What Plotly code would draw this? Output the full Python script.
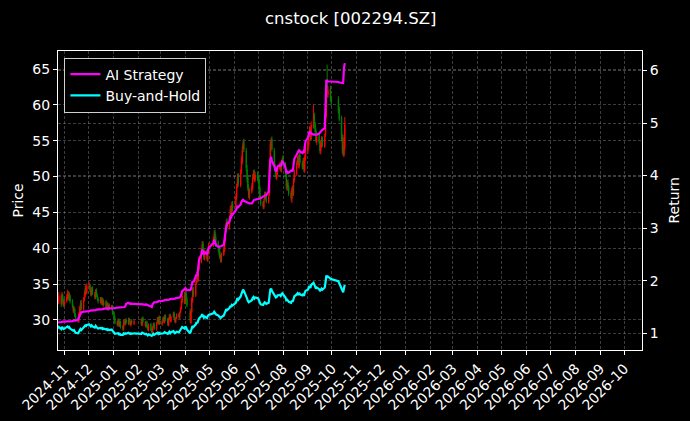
import pandas as pd
import plotly.graph_objects as go

# ---- trading calendar (SZSE, 2024-10-24 .. 2025-10-17) ----
holidays = ["2025-01-01", "2025-01-28", "2025-01-29", "2025-01-30", "2025-01-31",
            "2025-02-03", "2025-02-04", "2025-04-04", "2025-05-01", "2025-05-02",
            "2025-05-05", "2025-06-02", "2025-10-01", "2025-10-02", "2025-10-03",
            "2025-10-06", "2025-10-07", "2025-10-08"]
days = pd.bdate_range("2024-10-24", "2025-10-17")
dates = [d for d in days if d.strftime("%Y-%m-%d") not in holidays]

open_ = [
    32.9, 32.5, 33.3, 32.3, 33.4, 32.7,
    32.2, 32.6, 33.1, 33.7, 33.1, 33.4, 32.7, 31.9, 31.2, 31.5, 30.7, 30.1, 29.8, 30.9, 31.4, 32.4, 31.5, 32.9, 33.5, 34.5, 33.8,
    34.6, 34.8, 34.1, 33.5, 34.4, 33.7, 33.1, 34.1, 33.4, 33.0, 32.5, 33.0, 32.3, 32.9, 32.1, 32.6, 31.7, 32.3, 31.5, 32.1, 31.6, 31.9,
    31.0, 30.2, 29.7, 29.3, 30.0, 29.2, 29.7, 29.1, 28.7, 29.8, 29.4, 30.0, 29.5, 30.1, 29.6, 29.3, 29.9, 29.5,
    29.9, 29.3, 30.3, 29.7, 29.1, 29.7, 29.1, 28.6, 29.4, 28.7, 28.2, 29.0, 29.5, 28.7, 29.6, 30.2, 29.5, 30.4,
    29.4, 29.8, 30.3, 29.7, 30.6, 30.1, 29.3, 30.2, 30.7, 29.8, 30.5, 31.0, 30.2, 29.7, 30.3, 30.8, 30.3, 31.1, 31.6, 32.5, 33.5,
    32.4, 33.7, 32.9, 31.2, 29.6, 31.1, 32.6, 34.2, 33.4, 35.1, 36.4, 35.5, 37.1, 38.1, 39.4, 40.7, 39.5, 38.6, 39.6, 38.3, 39.5,
    40.5, 41.0, 42.2, 41.5, 40.8, 40.1, 39.5, 38.9, 38.3, 39.1, 39.7, 41.1, 42.5, 43.8, 42.9, 44.1, 45.6, 44.7, 46.2,
    45.8, 47.0, 48.8, 50.0, 48.8, 50.8, 52.0, 53.8, 54.9, 53.6, 51.0, 49.8, 48.5, 47.2, 47.9, 48.5, 50.0, 50.6, 49.5, 50.3,
    49.9, 49.6, 48.4, 47.1, 46.3, 45.7, 46.8, 47.6, 47.1, 46.4, 47.5, 51.6, 54.8, 55.2, 53.6, 51.4, 50.9, 49.8, 50.4, 51.1, 51.8, 50.8, 52.0,
    52.6, 51.7, 50.4, 48.5, 49.2, 48.5, 47.7, 46.9, 48.4, 47.6, 49.5, 50.4, 51.9, 52.6, 51.4, 53.0, 51.8, 51.3, 52.4, 50.8, 52.5,
    53.6, 54.4, 55.9, 56.7, 55.2, 57.0, 58.6, 57.2, 56.4, 54.8, 55.9, 54.9, 53.5, 54.4, 55.4, 54.2, 55.8, 58.6, 62.8, 61.4, 62.3, 61.0,
    60.8, 59.4, 58.2, 55.4, 53.8, 53.0, 54.0,
]
high = [
    33.4, 33.9, 33.6, 33.9, 33.7, 33.0,
    32.9, 33.6, 34.2, 34.0, 33.9, 33.6, 32.9, 32.1, 31.9, 31.7, 30.9, 30.4, 31.1, 31.9, 32.7, 32.8, 33.2, 34.0, 34.9, 34.8, 35.1,
    35.3, 35.0, 34.4, 34.6, 34.7, 33.9, 34.3, 34.4, 33.7, 33.2, 33.2, 33.2, 33.1, 33.1, 32.8, 32.8, 32.5, 32.5, 32.3, 32.3, 32.1, 32.1,
    31.2, 30.5, 29.9, 30.2, 30.2, 29.9, 29.9, 29.3, 30.0, 30.0, 30.2, 30.2, 30.3, 30.3, 29.8, 30.0, 30.1, 30.0,
    30.1, 30.4, 30.5, 29.9, 29.8, 29.9, 29.3, 29.5, 29.6, 28.9, 29.1, 29.6, 29.7, 29.7, 30.4, 30.4, 30.6, 30.6,
    29.9, 30.4, 30.5, 30.7, 30.8, 30.3, 30.3, 30.8, 30.9, 30.6, 31.1, 31.2, 30.4, 30.4, 30.9, 31.0, 31.2, 31.8, 32.9, 33.8, 33.9,
    34.3, 34.0, 33.2, 31.6, 31.3, 33.2, 34.5, 34.6, 35.4, 36.7, 36.8, 37.4, 38.8, 40.0, 41.0, 41.0, 39.9, 39.8, 39.9, 40.0, 40.8,
    41.6, 42.5, 42.6, 41.8, 41.1, 40.4, 39.8, 39.2, 39.4, 40.2, 41.6, 42.9, 44.0, 44.2, 44.6, 45.9, 46.0, 46.5, 46.6,
    47.6, 49.0, 50.4, 50.5, 51.0, 52.8, 54.2, 55.1, 55.3, 54.0, 51.6, 50.2, 48.9, 48.3, 49.1, 50.3, 50.9, 51.0, 50.7, 50.7,
    50.3, 49.9, 48.7, 47.4, 46.6, 46.9, 47.9, 47.9, 47.4, 47.5, 52.3, 55.0, 55.4, 55.6, 54.0, 51.8, 51.2, 50.6, 51.5, 52.0, 52.1, 52.3, 52.8,
    53.0, 52.0, 50.7, 49.5, 49.6, 48.8, 48.0, 48.6, 48.8, 49.8, 51.0, 52.2, 52.9, 53.0, 53.3, 53.4, 52.1, 52.6, 52.7, 53.0, 54.4,
    55.0, 56.2, 57.0, 56.9, 57.7, 60.0, 58.9, 57.6, 56.7, 56.0, 56.1, 55.0, 54.9, 55.6, 55.6, 56.0, 59.3, 63.4, 65.6, 62.6, 62.7, 61.3,
    61.2, 59.8, 58.5, 55.9, 54.3, 55.8, 58.3,
]
low = [
    32.2, 32.2, 31.8, 32.0, 32.5, 31.8,
    31.9, 32.4, 32.9, 32.7, 32.8, 32.3, 31.7, 31.0, 30.9, 30.4, 29.8, 29.6, 29.6, 30.6, 31.2, 31.3, 31.3, 32.6, 33.2, 33.5, 33.6,
    34.2, 33.9, 33.3, 33.3, 33.5, 32.9, 32.9, 33.2, 32.8, 32.3, 32.3, 32.1, 32.1, 31.9, 31.9, 31.5, 31.4, 31.3, 31.3, 31.4, 31.4, 30.7,
    29.9, 29.4, 29.1, 29.1, 29.1, 29.0, 28.8, 28.5, 28.5, 29.3, 29.2, 29.4, 29.3, 29.5, 29.2, 29.1, 29.4, 29.3,
    29.2, 29.1, 29.6, 29.0, 28.9, 28.8, 28.5, 28.4, 28.4, 28.1, 28.0, 28.8, 28.6, 28.5, 29.4, 29.4, 29.3, 29.3,
    29.2, 29.6, 29.6, 29.5, 29.8, 29.2, 29.1, 30.0, 29.7, 29.6, 30.3, 30.1, 29.6, 29.5, 30.1, 30.2, 30.1, 30.9, 31.4, 32.3, 32.2,
    32.2, 32.8, 31.8, 29.6, 29.4, 30.9, 32.4, 33.2, 33.2, 34.9, 35.3, 35.3, 36.9, 37.9, 39.1, 39.3, 38.4, 38.3, 38.2, 38.1, 39.2,
    40.2, 40.8, 41.0, 40.2, 39.7, 39.0, 38.5, 38.0, 38.0, 38.9, 39.5, 40.9, 42.2, 42.7, 42.6, 43.8, 44.4, 44.4, 45.2,
    45.5, 46.7, 48.4, 48.6, 48.5, 50.4, 51.7, 53.4, 53.4, 50.8, 49.2, 48.0, 47.0, 46.8, 47.6, 48.2, 49.6, 49.3, 49.2, 49.4,
    49.1, 48.0, 46.8, 45.9, 45.5, 45.4, 46.6, 46.8, 46.3, 46.2, 47.3, 51.3, 54.3, 53.5, 51.3, 50.4, 49.7, 49.5, 50.2, 50.9, 50.7, 50.6, 51.7,
    51.4, 49.9, 48.2, 48.0, 48.1, 47.3, 46.6, 46.3, 47.4, 47.3, 49.2, 50.1, 51.6, 51.2, 51.1, 51.7, 51.0, 51.0, 50.6, 50.5, 52.2,
    53.2, 54.1, 55.5, 55.0, 55.0, 56.7, 56.7, 55.9, 54.7, 54.4, 54.5, 53.2, 53.1, 54.0, 54.1, 54.0, 55.5, 58.2, 61.0, 61.0, 60.4, 59.8,
    58.8, 57.7, 54.9, 53.2, 52.8, 52.7, 53.7,
]
close = [
    32.6, 33.4, 32.2, 33.5, 32.8, 32.1,
    32.5, 33.2, 33.8, 33.0, 33.5, 32.6, 32.0, 31.3, 31.6, 30.6, 30.0, 29.9, 30.8, 31.5, 32.3, 31.6, 32.8, 33.6, 34.4, 33.9, 34.7,
    34.9, 34.2, 33.6, 34.3, 33.8, 33.2, 34.0, 33.5, 33.1, 32.6, 32.9, 32.4, 32.8, 32.2, 32.5, 31.8, 32.2, 31.6, 32.0, 31.7, 31.9, 31.0,
    30.1, 29.6, 29.4, 29.9, 29.3, 29.6, 29.0, 28.8, 29.7, 29.5, 29.9, 29.6, 30.0, 29.7, 29.4, 29.8, 29.6, 29.8,
    29.4, 30.2, 29.8, 29.2, 29.6, 29.0, 28.7, 29.3, 28.6, 28.3, 28.9, 29.4, 28.8, 29.5, 30.1, 29.6, 30.3, 29.5,
    29.7, 30.2, 29.8, 30.5, 30.0, 29.4, 30.1, 30.6, 29.9, 30.4, 30.9, 30.3, 29.8, 30.2, 30.7, 30.4, 31.0, 31.5, 32.6, 33.4, 32.5,
    33.6, 33.0, 32.0, 29.9, 31.0, 32.8, 34.0, 33.5, 35.0, 36.2, 35.6, 37.0, 38.2, 39.5, 40.5, 39.6, 38.8, 39.4, 38.5, 39.6, 40.3,
    41.2, 42.0, 41.4, 40.6, 40.0, 39.4, 38.8, 38.4, 39.0, 39.8, 41.2, 42.4, 43.6, 43.0, 44.2, 45.4, 44.8, 46.0, 45.6,
    47.2, 48.6, 49.8, 49.0, 50.6, 52.2, 53.6, 54.6, 53.8, 51.2, 49.6, 48.4, 47.4, 47.8, 48.6, 49.8, 50.4, 49.6, 50.2, 49.8,
    49.5, 48.2, 47.0, 46.2, 45.8, 46.6, 47.5, 47.0, 46.5, 47.2, 51.8, 54.6, 55.0, 53.8, 51.6, 50.8, 50.0, 50.3, 51.2, 51.6, 51.0, 51.9, 52.4,
    51.8, 50.2, 48.6, 49.0, 48.4, 47.6, 47.0, 48.2, 47.8, 49.4, 50.6, 51.8, 52.4, 51.6, 52.8, 52.0, 51.4, 52.2, 51.0, 52.6, 53.8,
    54.6, 55.8, 56.5, 55.4, 57.2, 58.4, 57.0, 56.2, 55.0, 55.6, 54.8, 53.6, 54.5, 55.2, 54.4, 55.6, 58.8, 62.5, 61.6, 62.0, 60.8, 60.4,
    59.2, 58.0, 55.2, 53.6, 53.0, 55.4, 57.2,
]
ai_strategy = [
    1.20, 1.21, 1.21, 1.22, 1.22, 1.22,
    1.22, 1.22, 1.23, 1.23, 1.23, 1.23, 1.23, 1.24, 1.25, 1.24, 1.24, 1.26, 1.30, 1.33, 1.38, 1.40, 1.41, 1.41, 1.42, 1.42, 1.42,
    1.42, 1.43, 1.43, 1.43, 1.44, 1.44, 1.44, 1.45, 1.45, 1.45, 1.46, 1.46, 1.46, 1.46, 1.47, 1.47, 1.47, 1.47, 1.48, 1.48, 1.48, 1.48,
    1.48, 1.48, 1.49, 1.49, 1.49, 1.49, 1.49, 1.50, 1.50, 1.50, 1.51, 1.56, 1.58, 1.57, 1.56, 1.57, 1.56, 1.56,
    1.55, 1.56, 1.55, 1.54, 1.55, 1.54, 1.53, 1.53, 1.51, 1.50, 1.55, 1.58, 1.59, 1.59, 1.60, 1.60, 1.61, 1.61,
    1.61, 1.62, 1.62, 1.63, 1.63, 1.63, 1.64, 1.64, 1.65, 1.65, 1.65, 1.66, 1.66, 1.67, 1.67, 1.68, 1.68, 1.70, 1.74, 1.80, 1.84,
    1.86, 1.84, 1.82, 1.82, 1.84, 1.92, 1.99, 1.97, 2.06, 2.12, 2.09, 2.30, 2.40, 2.50, 2.59, 2.54, 2.50, 2.55, 2.50, 2.57, 2.62,
    2.72, 2.78, 2.74, 2.68, 2.65, 2.64, 2.65, 2.66, 2.66, 2.68, 2.82, 2.90, 3.03, 3.08, 3.12, 3.22, 3.18, 3.28, 3.26,
    3.34, 3.38, 3.41, 3.40, 3.45, 3.50, 3.54, 3.55, 3.52, 3.50, 3.49, 3.48, 3.48, 3.47, 3.47, 3.50, 3.53, 3.54, 3.54, 3.55,
    3.55, 3.56, 3.57, 3.57, 3.60, 3.61, 3.62, 3.62, 3.63, 3.70, 4.05, 4.30, 4.36, 4.28, 4.18, 4.12, 4.08, 4.10, 4.17, 4.20, 4.18, 4.22, 4.27,
    4.26, 4.15, 4.05, 4.07, 4.05, 4.06, 4.08, 4.10, 4.08, 4.20, 4.32, 4.40, 4.44, 4.47, 4.49, 4.46, 4.43, 4.45, 4.43, 4.55, 4.65,
    4.72, 4.80, 4.84, 4.82, 4.80, 4.78, 4.78, 4.77, 4.77, 4.78, 4.80, 4.82, 4.85, 4.87, 4.87, 4.90, 5.40, 5.82, 5.80, 5.79, 5.79, 5.79,
    5.78, 5.77, 5.76, 5.76, 5.76, 6.05, 6.14,
]
buy_and_hold = [
    1.09, 1.12, 1.08, 1.12, 1.10, 1.08,
    1.09, 1.11, 1.13, 1.11, 1.12, 1.09, 1.07, 1.05, 1.06, 1.03, 1.01, 1.00, 1.03, 1.06, 1.08, 1.06, 1.10, 1.13, 1.15, 1.14, 1.16,
    1.17, 1.15, 1.13, 1.15, 1.13, 1.11, 1.14, 1.12, 1.11, 1.09, 1.10, 1.09, 1.10, 1.08, 1.09, 1.07, 1.08, 1.06, 1.07, 1.06, 1.07, 1.04,
    1.01, 0.99, 0.99, 1.00, 0.98, 0.99, 0.97, 0.97, 1.00, 0.99, 1.00, 0.99, 1.01, 1.00, 0.99, 1.00, 0.99, 1.00,
    0.99, 1.01, 1.00, 0.98, 0.99, 0.97, 0.96, 0.98, 0.96, 0.95, 0.97, 0.99, 0.97, 0.99, 1.01, 0.99, 1.02, 0.99,
    1.00, 1.01, 1.00, 1.02, 1.01, 0.99, 1.01, 1.03, 1.00, 1.02, 1.04, 1.02, 1.00, 1.01, 1.03, 1.02, 1.04, 1.06, 1.09, 1.12, 1.09,
    1.13, 1.11, 1.07, 1.00, 1.04, 1.10, 1.14, 1.12, 1.17, 1.21, 1.19, 1.24, 1.28, 1.33, 1.36, 1.33, 1.30, 1.32, 1.29, 1.33, 1.35,
    1.38, 1.41, 1.39, 1.36, 1.34, 1.32, 1.30, 1.29, 1.31, 1.34, 1.38, 1.42, 1.46, 1.44, 1.48, 1.52, 1.50, 1.54, 1.53,
    1.58, 1.63, 1.67, 1.64, 1.70, 1.75, 1.80, 1.83, 1.81, 1.72, 1.66, 1.62, 1.59, 1.60, 1.63, 1.67, 1.69, 1.66, 1.68, 1.67,
    1.66, 1.62, 1.58, 1.55, 1.54, 1.56, 1.59, 1.58, 1.56, 1.58, 1.74, 1.83, 1.85, 1.81, 1.73, 1.70, 1.68, 1.69, 1.72, 1.73, 1.71, 1.74, 1.76,
    1.74, 1.68, 1.63, 1.64, 1.62, 1.60, 1.58, 1.62, 1.60, 1.66, 1.70, 1.74, 1.76, 1.73, 1.77, 1.74, 1.72, 1.75, 1.71, 1.77, 1.81,
    1.83, 1.87, 1.90, 1.86, 1.92, 1.96, 1.91, 1.89, 1.85, 1.87, 1.84, 1.80, 1.83, 1.85, 1.83, 1.87, 1.97, 2.10, 2.07, 2.08, 2.04, 2.03,
    1.99, 1.95, 1.85, 1.80, 1.78, 1.86, 1.92,
]

x_range = ["2024-10-24", "2026-10-23"]
price_range = [25.81, 67.51]
return_range = [0.682, 6.37]

n = len(dates)
assert all(len(a) == n for a in (open_, high, low, close, ai_strategy, buy_and_hold)), n

FONT = "DejaVu Sans"
GRID = "rgba(200,200,200,0.30)"

fig = go.Figure()
fig.add_trace(go.Candlestick(
    x=dates, open=open_, high=high, low=low, close=close,
    increasing=dict(line=dict(color="#ff0000", width=1), fillcolor="#ff0000"),
    decreasing=dict(line=dict(color="#008000", width=1), fillcolor="#008000"),
    whiskerwidth=0, showlegend=False, name="Price", yaxis="y",
))
fig.add_trace(go.Scatter(
    x=dates, y=ai_strategy, mode="lines", name="AI Strategy",
    line=dict(color="#ff00ff", width=2.2), yaxis="y2",
))
fig.add_trace(go.Scatter(
    x=dates, y=buy_and_hold, mode="lines", name="Buy-and-Hold",
    line=dict(color="#00ffff", width=2.2), yaxis="y2",
))

axis_common = dict(
    showline=True, linecolor="white", linewidth=1,
    ticks="outside", ticklen=4, tickcolor="white", tickwidth=1,
    showgrid=True, gridcolor=GRID, gridwidth=0.5, griddash="3px,2px",
    zeroline=False, automargin=False,
    tickfont=dict(family=FONT, size=14, color="white"),
)

fig.update_layout(
    width=690, height=421,
    margin=dict(l=58, r=48, t=51, b=71, autoexpand=False),
    paper_bgcolor="black", plot_bgcolor="black",
    font=dict(family=FONT, size=14, color="white"),
    showlegend=True,
    legend=dict(
        x=0.011, y=0.978, xanchor="left", yanchor="top",
        bgcolor="black", bordercolor="#d0d0d0", borderwidth=1,
        font=dict(family=FONT, size=14, color="white"),
        tracegroupgap=0, itemwidth=30,
    ),
    xaxis=dict(
        type="date", range=x_range, dtick="M1", tick0="2024-11-01",
        tickformat="%Y-%m", tickangle=-45, mirror=True,
        rangeslider=dict(visible=False), **axis_common,
    ),
    yaxis=dict(range=price_range, dtick=5, tick0=30, side="left", **axis_common),
    yaxis2=dict(range=return_range, dtick=1, tick0=1, side="right",
                overlaying="y", anchor="x", **axis_common),
    hovermode=False,
    annotations=[
        dict(text="cnstock [002294.SZ]", xref="paper", yref="paper", x=0.5, y=1,
             xanchor="center", yanchor="middle", yshift=33, showarrow=False,
             font=dict(family=FONT, size=16.5, color="white")),
        dict(text="Price", xref="paper", yref="paper", x=0, y=0.5, textangle=-90,
             xanchor="center", yanchor="middle", xshift=-41, showarrow=False,
             font=dict(family=FONT, size=14, color="white")),
        dict(text="Return", xref="paper", yref="paper", x=1, y=0.5, textangle=-90,
             xanchor="center", yanchor="middle", xshift=31, showarrow=False,
             font=dict(family=FONT, size=14, color="white")),
    ],
)

fig.write_html(
    "out.html",
    config={"displayModeBar": False},
    post_script="document.body.style.margin='0';document.body.style.background='black';",
)
